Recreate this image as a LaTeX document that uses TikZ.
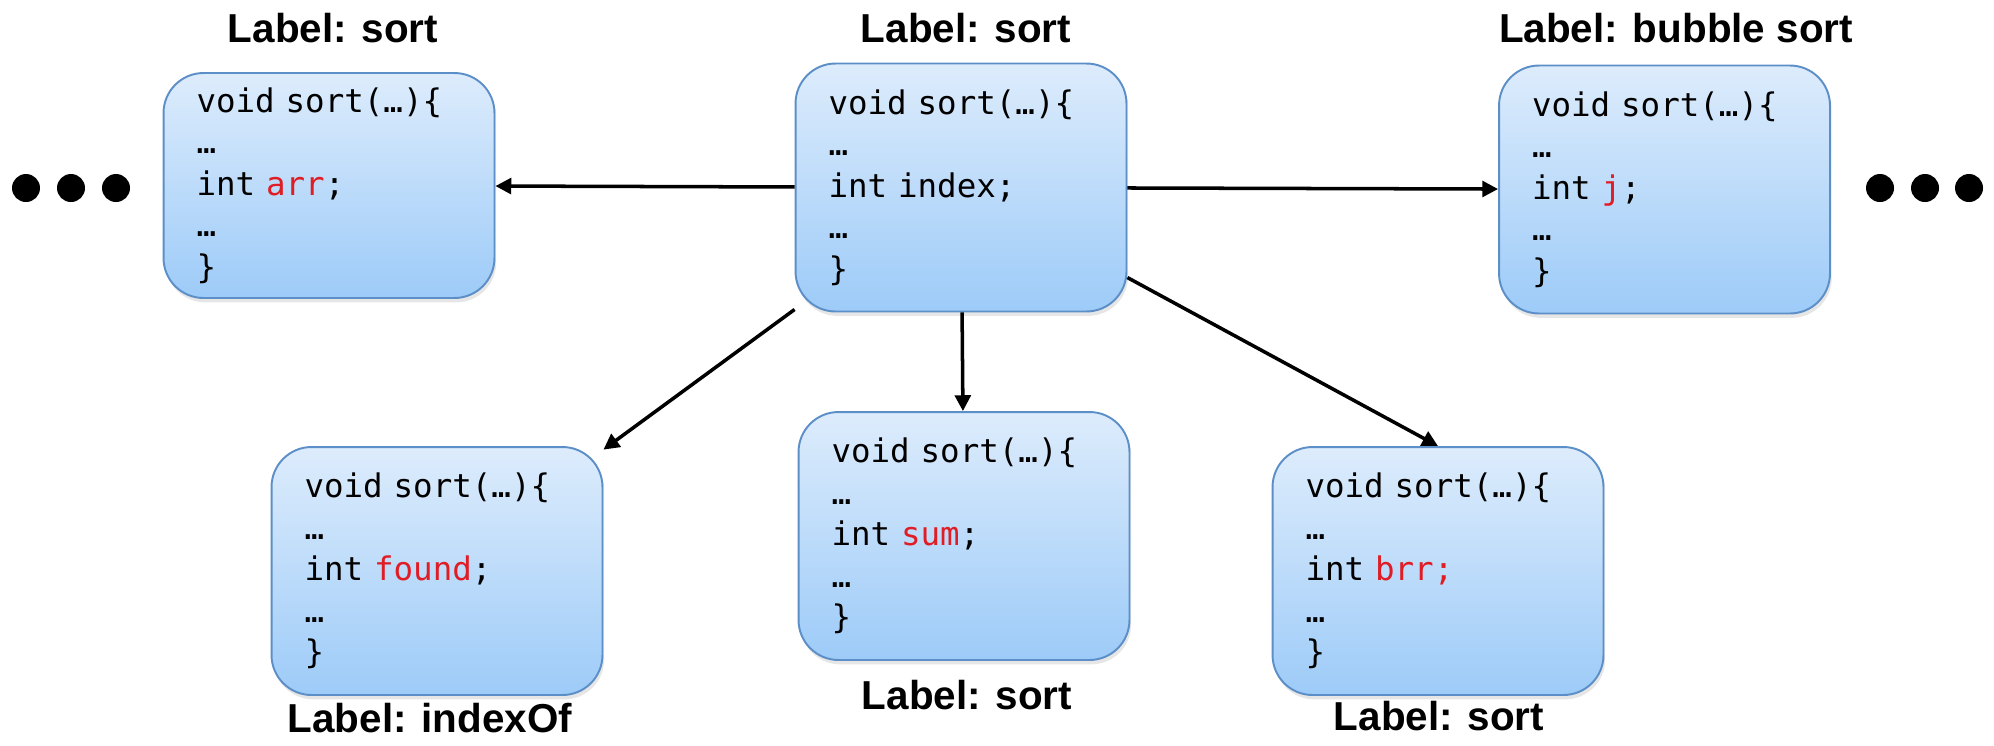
\documentclass[tikz,border=0pt]{standalone}
\usepackage{fontspec}
\setmainfont{Liberation Sans}
\newfontfamily\codefont{DejaVu Sans Mono}
\usetikzlibrary{arrows.meta,shadows}
\definecolor{boxtop}{RGB}{221,236,252}
\definecolor{boxbottom}{RGB}{157,203,248}
\definecolor{boxline}{RGB}{92,143,199}
\definecolor{varred}{RGB}{224,28,36}
\newcommand{\varname}[1]{\textcolor{varred}{#1}}

\begin{document}
\begin{tikzpicture}[x=0.02cm, y=-0.02cm,
    codebox/.style={draw=boxline, line width=1.1pt, rounded corners=0.8cm,
        top color=boxtop, bottom color=boxbottom,
        drop shadow={shadow xshift=1pt, shadow yshift=-2.5pt, opacity=0.2},
        minimum width=6.62cm, minimum height=4.96cm, text width=5.3cm,
        align=left, inner sep=0pt,
        font=\codefont\fontsize{18.5}{23.6}\selectfont},
    lbl/.style={anchor=base, font=\bfseries\fontsize{23}{27}\selectfont},
    call/.style={-{Triangle[length=9pt,width=9pt]}, line width=2pt}]
    \useasboundingbox (0,0) rectangle (1994,745);
    % Top row
    \node[codebox, minimum height=4.5cm] (arr) at (329,185.5) {void sort(…)\{\\…\\int \varname{arr};\\…\\\}};
    \node[codebox] (idx) at (961,187.5) {void sort(…)\{\\…\\int index;\\…\\\}};
    \node[codebox] (j) at (1664.5,189.5) {void sort(…)\{\\…\\int \varname{j};\\…\\\}};
    % Bottom row
    \node[codebox] (found) at (437,571) {void sort(…)\{\\…\\int \varname{found};\\…\\\}};
    \node[codebox] (sum) at (964,536) {void sort(…)\{\\…\\int \varname{sum};\\…\\\}};
    \node[codebox] (brr) at (1438,571) {void sort(…)\{\\…\\int \varname{brr;}\\…\\\}};
    % Labels
    \node[lbl] (arrLabel) at (333,42) {Label: sort};
    \node[lbl] (idxLabel) at (966,42) {Label: sort};
    \node[lbl] (jLabel) at (1676,42) {Label: bubble sort};
    \node[lbl] (foundLabel) at (430,732) {Label: indexOf};
    \node[lbl] (sumLabel) at (967,709) {Label: sort};
    \node[lbl] (brrLabel) at (1439,730) {Label: sort};
    % Calls
    \draw[call] (idx) -- (arr);
    \draw[call] (idx) -- (j);
    \draw[call] (idx) -- (found);
    \draw[call] (idx) -- (sum);
    \draw[call] (idx) -- (brr.north);
    % More calls on both sides
    \foreach \x in {26,71,116,1880,1925,1969}
        \fill (\x,188) circle (14);
\end{tikzpicture}
\end{document}
